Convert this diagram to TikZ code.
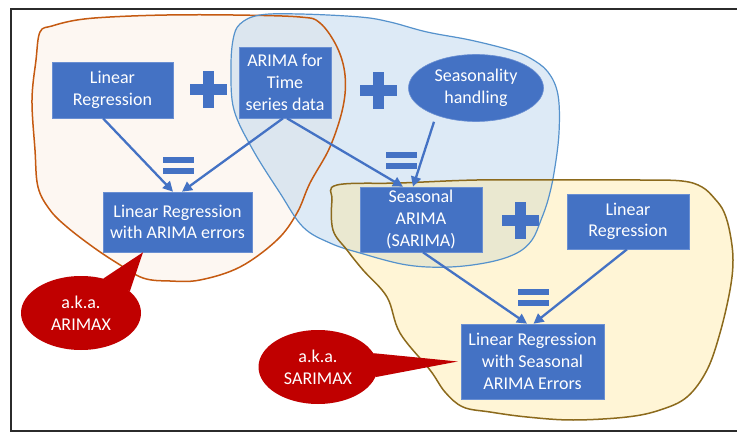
\documentclass[tikz,border=0pt]{standalone}
\usepackage{fontspec}
\setmainfont{Carlito}
\usetikzlibrary{shapes.geometric,arrows.meta}
\definecolor{boxblue}{HTML}{4472C4}
\definecolor{boxline}{HTML}{6A8FD2}
\definecolor{calred}{HTML}{C00000}
\definecolor{orline}{HTML}{C55A11}
\definecolor{orfill}{HTML}{FBE5D6}
\definecolor{blline}{HTML}{5592CC}
\definecolor{blfill}{HTML}{BDD7EE}
\definecolor{yeline}{HTML}{8C6A1C}
\definecolor{yefill}{HTML}{FFE699}
\definecolor{framegray}{HTML}{2B2B2B}
\def\orblob{(40,32) (36,60) (32,100) (35,150) (38,187) (50,210) (67,227) (93,247) (117,263) (143,278) (170,281) (200,280) (240,267) (277,240) (297,213) (310,183) (330,147) (343,107) (345,75) (337,47) (320,23) (300,17) (233,15) (167,15) (110,17) (77,20) (52,26)}
\def\blblob{(233,40) (231,70) (234,110) (253,150) (280,193) (303,227) (330,243) (360,253) (407,265) (450,267) (490,262) (517,253) (532,240) (541,220) (548,200) (554,173) (559,133) (558,95) (548,72) (530,58) (510,50) (470,40) (427,32) (390,22) (360,17) (300,14) (260,15) (240,24)}
\def\yeblob{(337,185) (400,183) (477,180) (560,180) (640,180) (682,181) (702,187) (715,199) (724,212) (730,233) (733,260) (730,290) (720,333) (707,370) (687,397) (660,410) (627,417) (573,420) (527,417) (490,412) (463,407) (445,392) (430,370) (400,333) (387,297) (363,270) (347,250) (333,230) (332,200)}
\tikzset{
  every node/.style={font=\fontsize{18}{21.7}\selectfont},
  bluebox/.style={draw=boxline, line width=0.6pt, fill=boxblue, text=white, align=center, inner sep=0pt},
  blueell/.style={ellipse, draw=boxline, line width=0.6pt, fill=boxblue, text=white, align=center, inner sep=0pt},
  redell/.style={ellipse, fill=calred, text=white, align=center, inner sep=0pt},
  arr/.style={draw=boxblue, line width=2.3pt, -{Triangle[length=10pt,width=10pt]}},
  plussign/.pic={\fill[boxblue] (-18.5,-5.5) rectangle (18.5,5.5); \fill[boxblue] (-5.5,-18.5) rectangle (5.5,18.5);},
  eqsign/.pic={\fill[boxblue] (-15.5,-8.5) rectangle (15.5,-2.5); \fill[boxblue] (-15.5,2.5) rectangle (15.5,8.5);}
}
\begin{document}
\begin{tikzpicture}[x=1pt,y=-1pt]
\useasboundingbox (0,0) rectangle (737,433);
\fill[white] (0,0) rectangle (737,433);
% blob fills
\fill[orfill, fill opacity=0.3] plot[smooth cycle, tension=0.6] coordinates {\orblob};
\fill[blfill, fill opacity=0.5] plot[smooth cycle, tension=0.6] coordinates {\blblob};
\fill[yefill, fill opacity=0.4] plot[smooth cycle, tension=0.6] coordinates {\yeblob};
% blob outlines
\draw[orline, line width=1.5pt] plot[smooth cycle, tension=0.6] coordinates {\orblob};
\draw[blline, line width=1.2pt] plot[smooth cycle, tension=0.6] coordinates {\blblob};
\draw[yeline, line width=1.5pt] plot[smooth cycle, tension=0.6] coordinates {\yeblob};
% frame
\draw[framegray, line width=2.2pt] (11,9) rectangle (742,431);
% nodes
\node[bluebox, minimum width=121pt, minimum height=56pt] (lr1) at (112.5,90) {Linear\\Regression};
\node[bluebox, minimum width=92pt, minimum height=71pt] (arima) at (285,82.5) {ARIMA for\\Time\\series data};
\node[blueell, minimum width=135pt, minimum height=67pt] (seas) at (476,88) {Seasonality\\handling};
\node[bluebox, minimum width=149pt, minimum height=60pt] (lrae) at (177.5,222) {Linear Regression\\with ARIMA errors};
\node[bluebox, minimum width=122pt, minimum height=65pt] (sarima) at (421,219.5) {Seasonal\\ARIMA\\(SARIMA)};
\node[bluebox, minimum width=122pt, minimum height=55pt] (lr2) at (628,221.5) {Linear\\Regression};
\node[bluebox, minimum width=143pt, minimum height=75pt] (lrsae) at (532.5,361.5) {Linear Regression\\with Seasonal\\ARIMA Errors};
% plus / equal
\pic at (208,90) {plussign};
\pic at (378,91) {plussign};
\pic at (520,221) {plussign};
\pic at (178,165.5) {eqsign};
\pic at (401,161) {eqsign};
\pic at (533,297.5) {eqsign};
% arrows
\draw[arr] ([xshift=-9.5pt]lr1.south) -- ([xshift=-4.5pt]lrae.north);
\draw[arr] ([xshift=-2pt]arima.south) -- ([xshift=4.5pt]lrae.north);
\draw[arr] ([xshift=2pt]arima.south) -- ([xshift=-18pt]sarima.north);
\draw[arr] ([xshift=-42pt]seas.south) -- ([xshift=-8pt]sarima.north);
\draw[arr] ([xshift=2pt]sarima.south) -- ([xshift=-5.5pt]lrsae.north);
\draw[arr] ([xshift=-1pt]lr2.south) -- ([xshift=1pt]lrsae.north);
% callouts
\node[redell, minimum width=120pt, minimum height=74pt] (arimax) at (81,313) {a.k.a.\\ARIMAX};
\fill[calred] (arimax.57) -- ([xshift=-34.5pt]lrae.south) -- (arimax.24) -- cycle;
\node[redell, minimum width=119pt, minimum height=74pt] (sarimax) at (318,367) {a.k.a.\\SARIMAX};
\fill[calred] (sarimax.14) -- ([xshift=-3pt]lrsae.west) -- (sarimax.-10) -- cycle;
\end{tikzpicture}
\end{document}
